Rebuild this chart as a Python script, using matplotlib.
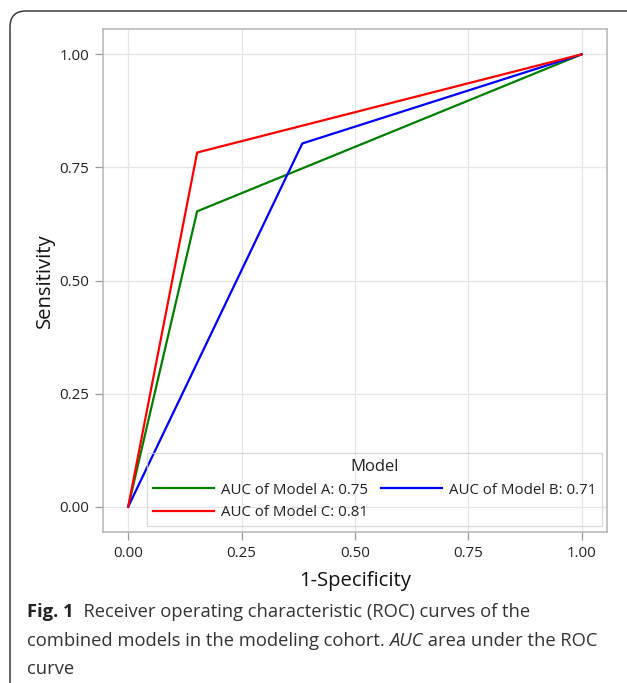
import matplotlib
matplotlib.use("Agg")
import matplotlib.pyplot as plt
from matplotlib.patches import FancyBboxPatch
from matplotlib.transforms import IdentityTransform

plt.rcParams['font.family'] = ['Open Sans', 'DejaVu Sans']

# ROC points (1-specificity, sensitivity)
fpr_a = [0.0, 0.152, 1.0]
tpr_a = [0.0, 0.653, 1.0]
fpr_b = [0.0, 0.384, 1.0]
tpr_b = [0.0, 0.803, 1.0]
fpr_c = [0.0, 0.152, 1.0]
tpr_c = [0.0, 0.783, 1.0]
labels = ["AUC of Model A: 0.75", "AUC of Model B: 0.71", "AUC of Model C: 0.81"]
ticks = [0.0, 0.25, 0.5, 0.75, 1.0]
tick_labels = ["0.00", "0.25", "0.50", "0.75", "1.00"]

fig = plt.figure(figsize=(6.27, 6.83), dpi=100)
ax = fig.add_axes([0.164, 0.221, 0.804, 0.7365])

la, = ax.plot(fpr_a, tpr_a, color="#008000", lw=1.6, label=labels[0])
lb, = ax.plot(fpr_b, tpr_b, color="#0000ff", lw=1.6, label=labels[1])
lc, = ax.plot(fpr_c, tpr_c, color="#ff0000", lw=1.6, label=labels[2])

ax.set_xlim(-0.056, 1.056)
ax.set_ylim(-0.056, 1.056)
ax.set_xticks(ticks)
ax.set_xticklabels(tick_labels)
ax.set_yticks(ticks)
ax.set_yticklabels(tick_labels)
ax.grid(True, color="#e6e6e6", lw=0.9)
ax.set_axisbelow(True)
for s in ax.spines.values():
    s.set_color("#b4b4b4")
    s.set_linewidth(1.1)
ax.tick_params(colors="#9a9a9a", labelcolor="#222222", labelsize=10.8, length=6, width=0.9, pad=4)
ax.set_xlabel("1-Specificity", fontsize=14.6, color="#111111", labelpad=7)
ax.set_ylabel("Sensitivity", fontsize=14.6, color="#111111", labelpad=3)

# column-major fill: A and C in the first column, B in the second
leg = ax.legend([la, lc, lb], [labels[0], labels[2], labels[1]], ncol=2, title="Model",
                loc="lower right", bbox_to_anchor=(0.99, 0.012), borderaxespad=0,
                fontsize=10.8, title_fontsize=12, handlelength=4.1, handletextpad=0.45,
                columnspacing=0.85, labelspacing=0.5, borderpad=0.4, fancybox=False,
                edgecolor="#d0d0d0")
leg.get_frame().set_facecolor("none")
leg.get_frame().set_linewidth(0.9)
leg.get_title().set_color("#222222")
for t in leg.get_texts():
    t.set_color("#222222")

# surrounding rounded frame (cut off at right and bottom)
frame = FancyBboxPatch((10, -30), 650, 702, boxstyle="round,pad=0,rounding_size=16",
                       transform=IdentityTransform(), fill=False, edgecolor="#3a3a3a", lw=1.1)
fig.patches.append(frame)

# caption
cap_font = ['Open Sans', 'DejaVu Sans']
cs = 13.2
t1 = fig.text(27 / 627, 1 - 617 / 683, "Fig. 1", fontsize=cs, fontweight="bold", color="#222222",
              family=cap_font, va="baseline")
ax.annotate("  Receiver operating characteristic (ROC) curves of the", xy=(1, 0), xycoords=t1,
            va="bottom", fontsize=cs, color="#333333", family=cap_font)
t2 = fig.text(27 / 627, 1 - 646 / 683, "combined models in the modeling cohort. ", fontsize=cs,
              color="#333333", family=cap_font, va="baseline")
t3 = ax.annotate("AUC", xy=(1, 0), xycoords=t2, va="bottom", fontsize=cs, style="italic",
                 color="#333333", family=cap_font)
ax.annotate(" area under the ROC", xy=(1, 0), xycoords=t3, va="bottom", fontsize=cs,
            color="#333333", family=cap_font)
fig.text(27 / 627, 1 - 674 / 683, "curve", fontsize=cs, color="#333333", family=cap_font,
         va="baseline")

fig.savefig("out.png", dpi=100)
